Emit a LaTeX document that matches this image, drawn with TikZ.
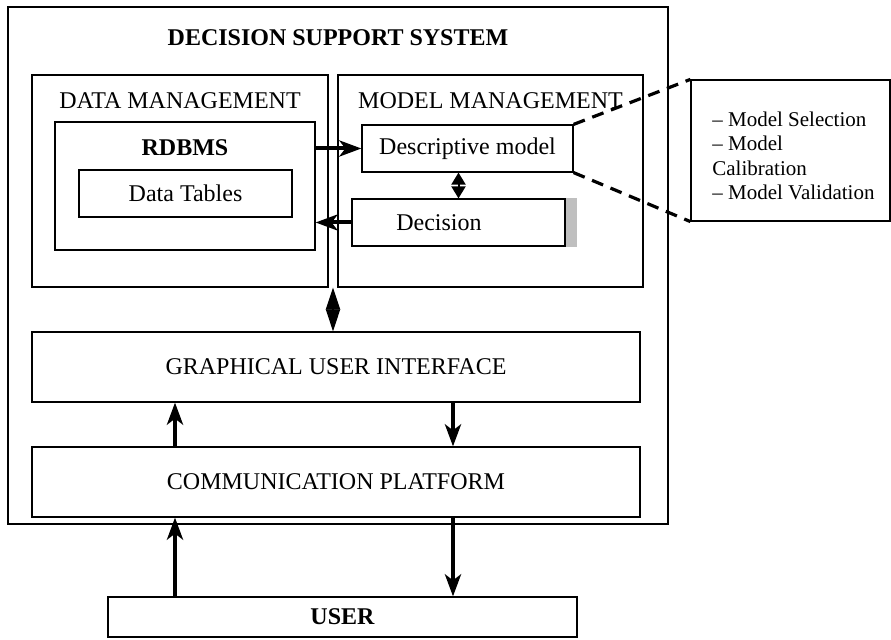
\documentclass[tikz,border=0pt]{standalone}
\usepackage{fontspec}
\setmainfont{Liberation Serif}
\usetikzlibrary{arrows.meta,calc}

\tikzset{
  box/.style={draw, line width=0.6pt, inner sep=0pt},
  flow/.style={line width=2pt, -{Stealth[length=11pt,width=8pt,inset=3pt]}},
  twoway/.style={line width=1pt, {Stealth[length=#1,width=7pt,inset=0pt]}-{Stealth[length=#1,width=7pt,inset=0pt]}},
  zoomline/.style={line width=1.6pt, dash pattern=on 6pt off 4pt}
}

\begin{document}
\begin{tikzpicture}[x=0.5pt, y=-0.5pt, font=\fontsize{12}{14}\selectfont]
		\useasboundingbox (0,0) rectangle (891,640);
		% containers
		\node[box, minimum width=330pt, minimum height=258.5pt] (dss) at (338,265.5) {};
		\node[font=\fontsize{12}{14}\selectfont\bfseries] (dsstitle) at (338,38) {DECISION SUPPORT SYSTEM};
		\node[box, minimum width=148pt, minimum height=106pt] (dm) at (180,181) {};
		\node (dmtitle) at (180,101) {DATA MANAGEMENT};
		\node[box, minimum width=152.5pt, minimum height=106pt] (mm) at (490.5,181) {};
		\node (mmtitle) at (490.5,101) {MODEL MANAGEMENT};
		\node[box, minimum width=130pt, minimum height=64pt] (rdbms) at (185,186) {};
		\node[font=\fontsize{12}{14}\selectfont\bfseries] (rdbmstitle) at (185,148) {RDBMS};
		\node[box, minimum width=106.5pt, minimum height=23.5pt] (tables) at (185.5,193.5) {Data Tables};
		% models
		\node[box, minimum width=105.5pt, minimum height=23.5pt] (desc) at (467.5,148.5) {Descriptive model};
		\node[box, minimum width=106.5pt, minimum height=23.5pt] (dec) at (458.5,222.5) {};
		\node (dectext) at (439,223) {Decision};
		\fill[gray!50] (dec.north east) rectangle ([xshift=5.5pt]dec.south east);
		% detail of the descriptive model
		\node[box, minimum width=99.5pt, minimum height=70.5pt] (steps) at (790.5,150.5) {};
		\node[anchor=west, align=left, inner sep=0pt, font=\fontsize{10.5}{12.25}\selectfont] (stepstext) at (712,156)
			{– Model Selection\\– Model\\Calibration\\– Model Validation};
		\draw[zoomline] (desc.north east) -- (steps.north west);
		\draw[zoomline] (desc.south east) -- (steps.south west);
		% interface layers
		\node[box, minimum width=304pt, minimum height=35pt] (gui) at (336,367) {GRAPHICAL USER INTERFACE};
		\node[box, minimum width=304pt, minimum height=35pt] (cp) at (336,482) {COMMUNICATION PLATFORM};
		\node[box, minimum width=234.5pt, minimum height=20pt, font=\fontsize{12}{14}\selectfont\bfseries] (user) at (342.5,617) {USER};
		% connectors
		\draw[flow] (rdbms.east |- desc.west) -- (desc.west);
		\draw[flow] (dec.west) -- (rdbms.east |- dec.west);
		\draw[twoway=6pt] (dec.north |- desc.south) -- (dec.north);
		\coordinate (gap) at ($(dm.south east)!0.5!(mm.south west)$);
		\draw[twoway=11pt] (gap) -- (gap |- gui.north);
		\coordinate (upx) at (175,0);
		\coordinate (downx) at (453,0);
		\foreach \lo/\hi in {cp/gui, user/cp} {
			\draw[flow] (\lo.north -| upx) -- (\hi.south -| upx);
			\draw[flow] (\hi.south -| downx) -- (\lo.north -| downx);
		}
\end{tikzpicture}
\end{document}
